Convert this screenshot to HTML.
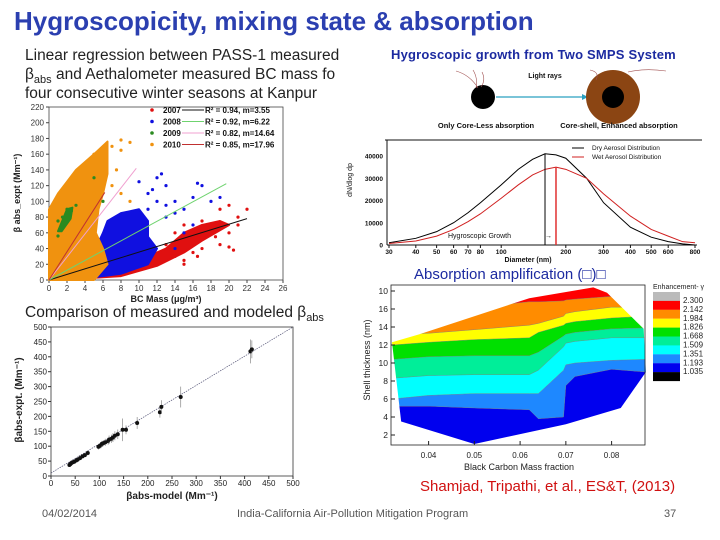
<!DOCTYPE html>
<html><head><meta charset="utf-8"><style>
html,body{margin:0;padding:0;background:#fff;}
#root{position:relative;width:720px;height:540px;overflow:hidden;font-family:"Liberation Sans",sans-serif;}
.t{position:absolute;white-space:nowrap;}
sub{line-height:0;}
svg text{font-family:"Liberation Sans",sans-serif;}
</style></head><body>
<div id="root">
<div class="t" style="left:14px;top:6px;font-size:26px;font-weight:bold;color:#2b3fb0;">Hygroscopicity, mixing state &amp; absorption</div>
<div class="t" style="left:25px;top:46px;font-size:15.5px;line-height:19px;color:#222;">Linear regression between PASS-1 measured<br>β<sub style="font-size:11px">abs</sub> and Aethalometer measured BC mass fo<br>four consecutive winter seasons at Kanpur</div>
<div class="t" style="left:391px;top:47px;font-size:13px;font-weight:bold;color:#1c2aa0;letter-spacing:0.2px;">Hygroscopic growth from Two SMPS System</div>
<div class="t" style="left:414px;top:266px;font-size:15px;color:#1c2aa0;">Absorption amplification (□)□</div>
<div class="t" style="left:25px;top:304px;font-size:15.5px;color:#222;">Comparison of measured and modeled β<sub style="font-size:11px">abs</sub></div>
<div class="t" style="left:420px;top:478px;font-size:15px;color:#d01010;">Shamjad, Tripathi, et al., ES&amp;T, (2013)</div>
<div class="t" style="left:42px;top:508px;font-size:11px;color:#555;">04/02/2014</div>
<div class="t" style="left:237px;top:508px;font-size:11px;color:#555;">India-California Air-Pollution Mitigation Program</div>
<div class="t" style="left:664px;top:508px;font-size:11px;color:#555;">37</div>
<svg id="sv" width="720" height="540" style="position:absolute;left:0;top:0"></svg>
</div>
<script>
// ---- Chart 1: beta_abs vs BC mass ----
const yearLabels=["2007","2008","2009","2010"];
const slopes=[3.55,6.22,14.64,17.96];
const r2=["0.94","0.92","0.82","0.85"];
const lineEnds=[22,19.7,9.7,6.2];
const c1xTicks=[0,2,4,6,8,10,12,14,16,18,20,22,24,26];
const c1yTicks=[0,20,40,60,80,100,120,140,160,180,200,220];
const orangeCloud=[[0,0],[0,90],[1,110],[2,125],[3,140],[4,150],[5,160],[6.5,176],[6.5,135],[6,110],[5.5,90],[5.2,60],[6,40],[6.5,20],[5,0]];
const blueCloud=[[1,2],[3,20],[5,35],[6,60],[6.5,75],[8,85],[10,90],[11,75],[11,55],[12,40],[11,20],[8,8],[4,2]];
const redCloud=[[1,0],[6,10],[10,25],[13,40],[15,60],[17,70],[19,75],[20,70],[17,50],[15,35],[12,18],[8,5]];
const greenCloud=[[1,62],[2,90],[2.6,92],[2.4,78],[1.4,62]];
const redPts=[[14,30],[15,25],[16,35],[17,40],[19,45],[20,42],[20,60],[21,80],[22,90],[19,90],[18,65],[16,55],[15,70],[14,60],[13,45],[17,75],[20.5,38],[18.5,55],[21,70],[20,95],[15,20],[16.5,30]];
const bluePts=[[11,110],[12,130],[13,120],[12.5,135],[14,100],[15,90],[16,105],[17,120],[18,100],[11,90],[10,125],[13,80],[15,60],[14,40],[16,70],[16.5,123],[19,105],[12,100],[13,95],[11.5,115],[14,85]];
const orangePts=[[5,160],[6,155],[7,170],[8,178],[8,165],[9,175],[6,140],[4,145],[3,130],[7,120],[8,110],[9,100],[5,110],[7.5,140]];
const greenPts=[[1,75],[1.5,80],[2,90],[2.5,88],[2.2,85],[1,56],[3,95],[5,130],[6,100]];
// ---- Chart 2: size distributions ----
const diam=[30,40,50,60,70,80,100,120,140,160,180,200,250,300,400,500,600,700,800];
const dryN=[1000,3000,6000,10000,14500,19000,27000,34000,38500,41000,40500,39000,30000,19000,8000,3500,1500,500,0];
const wetN=[700,1800,4000,7000,10500,14000,21000,27000,31500,34000,35000,34000,30000,23000,13000,7000,4000,1500,1000];
const c2xTicks=[30,40,50,60,70,80,100,200,300,400,500,600,800];
const c2yTicks=[0,10000,20000,30000,40000];
const dryPeak=160, wetPeak=180;
// ---- Chart 3: contour ----
const cxs=[0.032,0.04,0.05,0.062,0.064,0.0695,0.070,0.072,0.08,0.0875];
const bounds=[
 [5.2,5.2,5.0,4.8,3.8,4.0,7.5,8.5,9.3,9.0],
 [6.0,6.4,6.6,6.6,6.6,9.2,9.8,10.0,10.3,10.4],
 [8.3,8.6,8.7,8.7,9.2,11.8,12.2,12.4,12.8,12.8],
 [10.4,10.7,10.8,10.8,11.2,13.0,13.2,13.4,13.8,13.9],
 [12.0,12.3,12.6,12.8,13.4,14.2,14.4,14.6,15.0,15.2],
 [13.2,13.3,13.7,14.2,14.4,15.2,15.5,15.7,16.2,16.2],
 [15.5,15.8,16.2,16.8,16.8,16.9,17.0,17.1,17.4,17.5]];
const hull=[[0.032,12.3],[0.038,13.2],[0.062,17.2],[0.076,18.4],[0.079,17.8],[0.086,14.3],[0.087,13.8],[0.0875,9.0],[0.082,5.0],[0.07,3.2],[0.05,1.0],[0.034,3.5]];
const levels=["2.300","2.142","1.984","1.826","1.668","1.509","1.351","1.193","1.035"];
const c3xTicks=[0.04,0.05,0.06,0.07,0.08];
const c3yTicks=[2,4,6,8,10,12,14,16,18];
// ---- Chart 4: model vs measured ----
const modelV=[38,40,42,45,48,52,55,60,65,70,76,98,100,103,105,108,112,118,120,125,128,132,138,148,155,178,225,228,268,412,415];
const exptV=[37,40,43,46,48,52,55,60,66,70,77,98,100,103,108,110,113,117,122,125,129,135,140,155,155,178,214,232,265,418,425];
const errV=[4,4,5,5,5,6,6,6,7,7,8,9,9,10,10,10,12,12,14,14,15,15,16,38,15,20,18,22,35,40,30];
const c4Ticks=[0,50,100,150,200,250,300,350,400,450,500];

const NS="http://www.w3.org/2000/svg", sv=document.getElementById('sv');
function mk(tag,a,parent){const e=document.createElementNS(NS,tag);for(const k in a)e.setAttribute(k,a[k]);(parent||sv).appendChild(e);return e;}
function tx(x,y,s,a,parent){const e=mk('text',Object.assign({x:x,y:y},a),parent);e.textContent=s;return e;}

// Chart 1
const X1=v=>49+v*(283-49)/26, Y1=v=>280-v*(280-107)/220;
let e=mk('rect',{x:49,y:107,width:234,height:173,fill:'none',stroke:'#444','stroke-width':0.8});

c1xTicks.forEach(t=>{let l=mk('line',{x1:X1(t),x2:X1(t),y1:280,y2:283,stroke:'#444'});
 let s=tx(X1(t),291,t,{'font-size':8,'text-anchor':'middle',fill:'#333'});});
c1yTicks.forEach(t=>{let l=mk('line',{x1:46,x2:49,y1:Y1(t),y2:Y1(t),stroke:'#444'});
 let s=tx(44,Y1(t)+3,t,{'font-size':8,'text-anchor':'end',fill:'#333'});});
e=tx(166,302,'BC Mass (μg/m³)',{'font-size':9,'font-weight':'bold','text-anchor':'middle',fill:'#222'});
e=tx(0,0,'β abs_expt (Mm⁻¹)',{'font-size':9,'font-weight':'bold','text-anchor':'middle',fill:'#222',transform:'translate(20,193) rotate(-90)'});
const poly=(pts,X,Y)=>pts.map(p=>X(p[0])+','+Y(p[1])).join(' ');
[[redCloud,'#e01010','red-cloud'],[blueCloud,'#1010e0','blue-cloud'],[orangeCloud,'#f0920f','orange-cloud'],[greenCloud,'#2a8a20','green-cloud']].forEach(c=>{
 let p=mk('polygon',{points:poly(c[0],X1,Y1),fill:c[1],stroke:c[1],'stroke-width':2,'stroke-linejoin':'round'});});
[[redPts,'#e01010','point-2007'],[bluePts,'#1010e0','point-2008'],[orangePts,'#f0920f','point-2010'],[greenPts,'#2a8a20','point-2009']].forEach(c=>{
 c[0].forEach(p=>{let d=mk('circle',{cx:X1(p[0]),cy:Y1(p[1]),r:1.6,fill:c[1]});});});
const lineCols=['#111','#6fd36f','#f0a0d0','#c03030'], markCols=['#e01010','#1010e0','#2a8a20','#f0920f'];
slopes.forEach((m,i)=>{let l=mk('line',{x1:X1(0),y1:Y1(0),x2:X1(lineEnds[i]),y2:Y1(m*lineEnds[i]),stroke:lineCols[i],'stroke-width':1});
 const ly=113+i*11.5;
 let d=mk('circle',{cx:152,cy:ly-3,r:1.8,fill:markCols[i]});
 let s=tx(163,ly,yearLabels[i],{'font-size':8,'font-weight':'bold',fill:'#111'});
 let ll=mk('line',{x1:182,x2:204,y1:ly-3,y2:ly-3,stroke:lineCols[i]});
 let s2=tx(205,ly,'R² = '+r2[i]+', m='+m.toFixed(2),{'font-size':8,'font-weight':'bold',fill:'#111'});});

// Chart 2: diagram
e=mk('line',{x1:385,x2:702,y1:140,y2:140,stroke:'#111','stroke-width':1});
e=mk('line',{x1:496,x2:584,y1:97,y2:97,stroke:'#2aa0c0','stroke-width':1.2});
e=mk('polygon',{points:'588,97 582,94 582,100',fill:'#2aa0c0'});
e=mk('circle',{cx:483,cy:97,r:12,fill:'#000'});
e=mk('circle',{cx:613,cy:97,r:27,fill:'#8b4513'});
e=mk('circle',{cx:613,cy:97,r:11,fill:'#000'});
['M456,71 Q470,75 478,88','M482,72 Q486,80 481,87','M473,70 Q478,78 476,88','M590,70 Q600,72 596,80','M628,72 Q645,68 666,71'].forEach(d=>{let p=mk('path',{d:d,fill:'none',stroke:'#a05050','stroke-width':0.6});});
e=tx(545,78,'Light rays',{'font-size':7,'font-weight':'bold','text-anchor':'middle',fill:'#111'});
e=tx(486,128,'Only Core-Less absorption',{'font-size':7.5,'font-weight':'bold','text-anchor':'middle',fill:'#111'});
e=tx(619,128,'Core-shell, Enhanced absorption',{'font-size':7.5,'font-weight':'bold','text-anchor':'middle',fill:'#111'});
// Chart 2: distribution
const X2=d=>389+Math.log10(d/30)*214.6, Y2=v=>245-v*(245-156)/40000;
e=mk('line',{x1:387,x2:697,y1:245,y2:245,stroke:'#111'});
e=mk('line',{x1:387,x2:387,y1:140,y2:245,stroke:'#111'});
c2xTicks.forEach(t=>{let l=mk('line',{x1:X2(t),x2:X2(t),y1:245,y2:248,stroke:'#111'});
 let s=tx(X2(t),254,t,{'font-size':6.5,'font-weight':'bold','text-anchor':'middle',fill:'#111'});});
c2yTicks.forEach(t=>{let s=tx(383,Y2(t)+2.5,t,{'font-size':6.5,'font-weight':'bold','text-anchor':'end',fill:'#111'});});
e=tx(528,262,'Diameter (nm)',{'font-size':7,'font-weight':'bold','text-anchor':'middle',fill:'#111','font-family':'Liberation Serif'});
e=tx(0,0,'dN/dlog dp',{'font-size':7,'text-anchor':'middle',fill:'#111',transform:'translate(352,180) rotate(-90)'});
e=mk('polyline',{points:diam.map((d,i)=>X2(d)+','+Y2(dryN[i])).join(' '),fill:'none',stroke:'#000','stroke-width':1});
e=mk('polyline',{points:diam.map((d,i)=>X2(d)+','+Y2(wetN[i])).join(' '),fill:'none',stroke:'#d02020','stroke-width':1});
e=mk('line',{x1:X2(dryPeak),x2:X2(dryPeak),y1:245,y2:Y2(dryN[diam.indexOf(dryPeak)]),stroke:'#000'});
e=mk('line',{x1:X2(wetPeak),x2:X2(wetPeak),y1:245,y2:Y2(wetN[diam.indexOf(wetPeak)]),stroke:'#e03030','stroke-width':1.5});
e=tx(448,238,'Hygroscopic Growth',{'font-size':7,'fill':'#111'});
e=tx(545,238,'→',{'font-size':7,fill:'#111'});
[['Dry Aerosol Distribution','#000',150],['Wet Aerosol Distribution','#d02020',159]].forEach(L=>{let l=mk('line',{x1:572,x2:584,y1:L[2]-2,y2:L[2]-2,stroke:L[1]});
 let s=tx(592,L[2],L[0],{'font-size':6.5,fill:'#111'});});

// Chart 3: contour
const X3=v=>392+(v-0.032)*(611-428)/0.04, Y3=v=>435-(v-2)*9;
const defs=mk('defs',{});const cp=mk('clipPath',{id:'hullclip'},defs);mk('polygon',{points:poly(hull,X3,Y3)},cp);
const g=mk('g',{'clip-path':'url(#hullclip)'});
const bandCols=['#0000ee','#1e88ff','#00ffff','#00ee99','#00e000','#ffff00','#ff8c00','#ff0000'];
const lower=[cxs.map(()=>0)].concat(bounds), upper=bounds.concat([cxs.map(()=>22)]);
bandCols.forEach((c,i)=>{const top=cxs.map((x,j)=>X3(x)+','+Y3(upper[i][j]));const bot=cxs.map((x,j)=>X3(x)+','+Y3(lower[i][j])).reverse();
 const ex=[X3(0.025)+','+Y3(upper[i][0]),...top,X3(0.095)+','+Y3(upper[i][cxs.length-1]),X3(0.095)+','+Y3(lower[i][cxs.length-1]),...bot,X3(0.025)+','+Y3(lower[i][0])];
 let p=mk('polygon',{points:ex.join(' '),fill:c},g);});
bounds.forEach(b=>{let l=mk('polyline',{points:cxs.map((x,j)=>X3(x)+','+Y3(b[j])).join(' '),fill:'none',stroke:'#777','stroke-width':0.4},g);});
e=mk('rect',{x:391,y:285,width:254,height:160,fill:'none',stroke:'#222','stroke-width':0.8});
c3xTicks.forEach(t=>{let s=tx(X3(t),458,t.toFixed(2),{'font-size':8,'text-anchor':'middle',fill:'#222'});
 let l=mk('line',{x1:X3(t),x2:X3(t),y1:445,y2:441,stroke:'#222'});});
c3yTicks.forEach(t=>{let s=tx(388,Y3(t)+3,t===18?'10':t,{'font-size':8.5,'text-anchor':'end',fill:'#222'});
 let l=mk('line',{x1:391,x2:395,y1:Y3(t),y2:Y3(t),stroke:'#222'});});
e=tx(519,470,'Black Carbon Mass fraction',{'font-size':9,'text-anchor':'middle',fill:'#222'});
e=tx(0,0,'Shell thickness (nm)',{'font-size':9,'text-anchor':'middle',fill:'#222',transform:'translate(370,360) rotate(-90)'});
e=tx(653,289,'Enhancement- γ',{'font-size':7,fill:'#222'});
['#bbbbbb','#ff0000','#ff8c00','#ffff00','#00e000','#00ee99','#00ffff','#1e88ff','#0000ee','#000000'].forEach((c,i)=>{let r=mk('rect',{x:653,y:292+i*8.9,width:27,height:9,fill:c});});
levels.forEach((s,i)=>{let t=tx(683,303+i*8.9,s,{'font-size':8,fill:'#222'});});

// Chart 4
const X4=v=>51+v*242/500, Y4=v=>476-v*149/500;
e=mk('rect',{x:51,y:327,width:242,height:149,fill:'none',stroke:'#333','stroke-width':0.8});
c4Ticks.forEach(t=>{let s=tx(X4(t),486,t,{'font-size':8,'text-anchor':'middle',fill:'#222'});
 let s2=tx(47,Y4(t)+3,t,{'font-size':8,'text-anchor':'end',fill:'#222'});
 let l=mk('line',{x1:X4(t),x2:X4(t),y1:476,y2:479,stroke:'#333'});
 let l2=mk('line',{x1:48,x2:51,y1:Y4(t),y2:Y4(t),stroke:'#333'});});
e=mk('line',{x1:X4(0),y1:Y4(10),x2:X4(500),y2:Y4(500),stroke:'#557','stroke-dasharray':'1.5,1','stroke-width':0.7});
modelV.forEach((m,i)=>{let l=mk('line',{x1:X4(m),x2:X4(m),y1:Y4(exptV[i]-errV[i]),y2:Y4(exptV[i]+errV[i]),stroke:'#888','stroke-width':0.7});
 let d=mk('circle',{cx:X4(m),cy:Y4(exptV[i]),r:2,fill:'#111'});});
e=tx(172,499,'βabs-model (Mm⁻¹)',{'font-size':10,'font-weight':'bold','text-anchor':'middle',fill:'#222'});
e=tx(0,0,'βabs-expt. (Mm⁻¹)',{'font-size':10,'font-weight':'bold','text-anchor':'middle',fill:'#222',transform:'translate(22,400) rotate(-90)'});
</script>
</body></html>
